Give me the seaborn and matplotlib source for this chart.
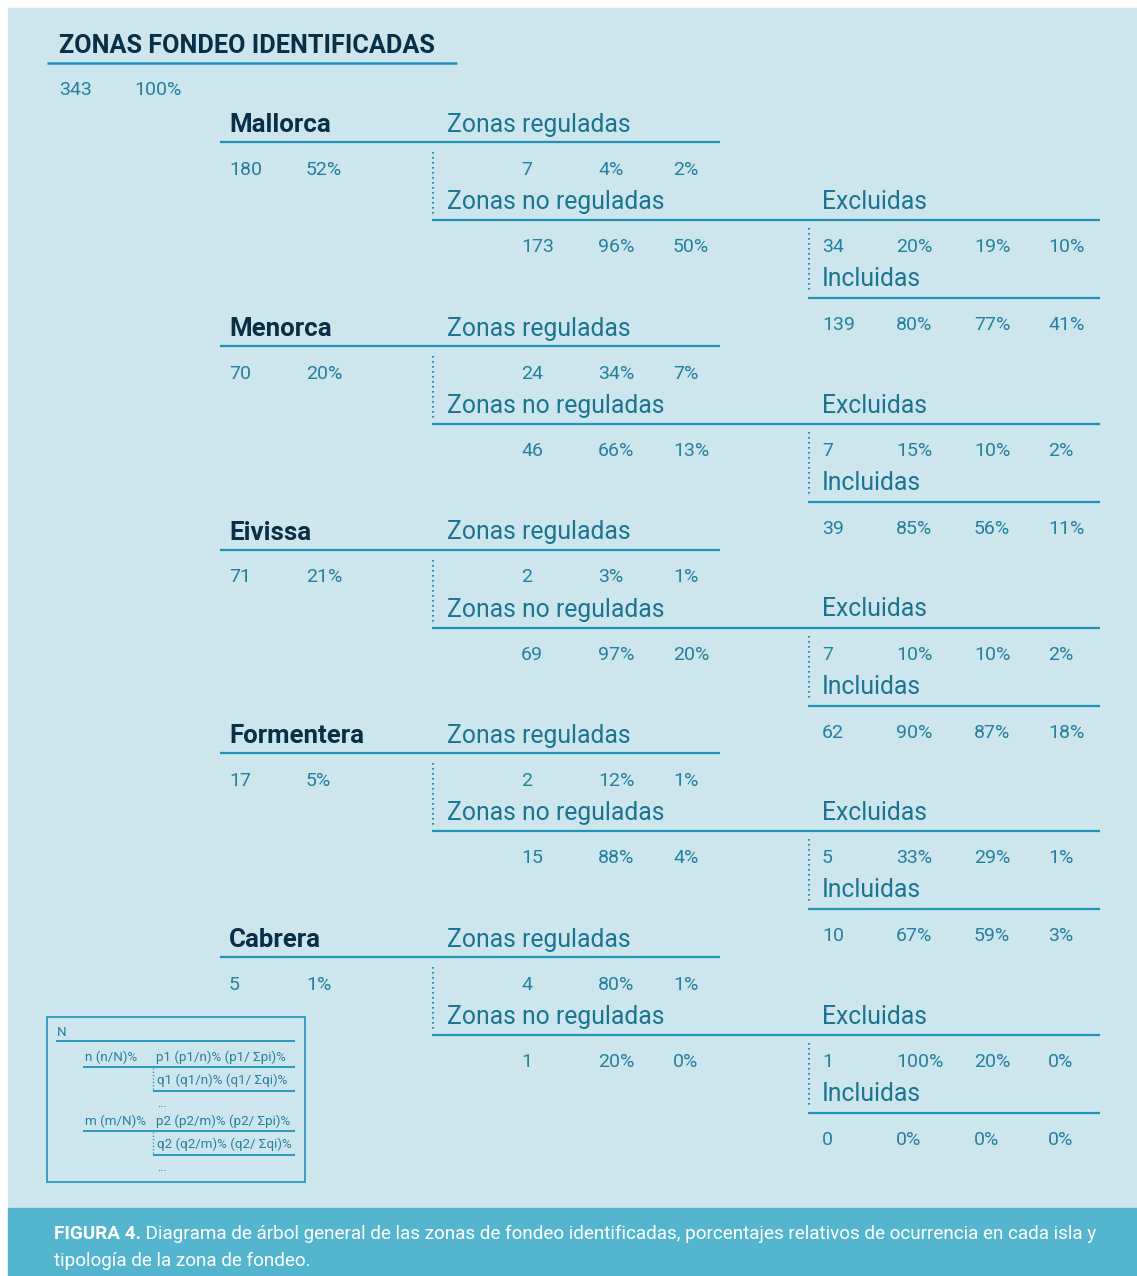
import matplotlib
matplotlib.use("Agg")
import matplotlib.pyplot as plt
import seaborn as sns
from matplotlib.patches import Rectangle

# ---- data ----
total_n = 343
total_pct = 100
islands = ["Mallorca", "Menorca", "Eivissa", "Formentera", "Cabrera"]
island_n = [180, 70, 71, 17, 5]
island_pct = [52, 20, 21, 5, 1]

reg_n = [7, 24, 2, 2, 4]
reg_pct = [4, 34, 3, 12, 80]
reg_tot = [2, 7, 1, 1, 1]

noreg_n = [173, 46, 69, 15, 1]
noreg_pct = [96, 66, 97, 88, 20]
noreg_tot = [50, 13, 20, 4, 0]

excl_n = [34, 7, 7, 5, 1]
excl_pct = [20, 15, 10, 33, 100]
excl_rel = [19, 10, 10, 29, 20]
excl_tot = [10, 2, 2, 1, 0]

incl_n = [139, 39, 62, 10, 0]
incl_pct = [80, 85, 90, 67, 0]
incl_rel = [77, 56, 87, 59, 0]
incl_tot = [41, 11, 18, 3, 0]

legend_rows = [
    ("n (n/N)%", "p1 (p1/n)% (p1/ \u03a3pi)%", "q1 (q1/n)% (q1/ \u03a3qi)%"),
    ("m (m/N)%", "p2 (p2/m)% (p2/ \u03a3pi)%", "q2 (q2/m)% (q2/ \u03a3qi)%"),
]

title = "ZONAS FONDEO IDENTIFICADAS"
caption_bold = "FIGURA 4."
caption_1 = " Diagrama de árbol general de las zonas de fondeo identificadas, porcentajes relativos de ocurrencia en cada isla y"
caption_2 = "tipología de la zona de fondeo."

# ---- style ----
sns.set_theme(style="white")
plt.rcParams["font.family"] = ["Roboto", "DejaVu Sans"]

BG = "#cde6ee"
CAP_BG = "#53b6ce"
LINE = "#1f93b6"
TEAL = "#23809f"
HEAD = "#1b7492"
NAVY = "#082f48"

W, H = 1137, 1276
fig = plt.figure(figsize=(W / 100, H / 100), dpi=100, facecolor="white")
ax = fig.add_axes([0, 0, 1, 1])
ax.set_xlim(0, W)
ax.set_ylim(H, 0)
ax.axis("off")

ax.add_patch(Rectangle((8, 8), W - 8, 1200, color=BG, zorder=0))
ax.add_patch(Rectangle((8, 1208), W - 8, H - 1208, color=CAP_BG, zorder=0))

NUM = 14
HD = 17.8
ISL = 18.6


def hline(x0, x1, y, lw=1.6):
    ax.plot([x0, x1], [y, y], color=LINE, lw=lw, solid_capstyle="butt")


def dotted(x, y0, y1, lw=1.5):
    ax.plot([x, x], [y0, y1], color=LINE, lw=lw, linestyle=(0, (0.8, 1.6)))


def num(x, y, s, size=NUM):
    ax.text(x, y, s, color=TEAL, fontsize=size, va="baseline", ha="left")


# title
ax.text(59, 53, title, color=NAVY, fontsize=18.2, fontweight="bold", va="baseline")
hline(47, 457, 63, lw=1.8)
num(59, 95, str(total_n))
num(134, 95, f"{total_pct}%")

step = 203.75
for i, name in enumerate(islands):
    b = i * step
    ax.text(229, 132 + b, name, color=NAVY, fontsize=ISL, fontweight="bold", va="baseline")
    ax.text(447, 132 + b, "Zonas reguladas", color=HEAD, fontsize=HD, va="baseline")
    hline(220, 432, 142 + b)
    hline(432, 720, 142 + b)

    num(229, 175 + b, str(island_n[i]))
    num(306, 175 + b, f"{island_pct[i]}%")
    num(521, 175 + b, str(reg_n[i]))
    num(598, 175 + b, f"{reg_pct[i]}%")
    num(673, 175 + b, f"{reg_tot[i]}%")
    dotted(433, 152 + b, 215 + b)

    ax.text(447, 209 + b, "Zonas no reguladas", color=HEAD, fontsize=HD, va="baseline")
    ax.text(822, 209 + b, "Excluidas", color=HEAD, fontsize=HD, va="baseline")
    hline(432, 1100, 220 + b)

    num(521, 252 + b, str(noreg_n[i]))
    num(598, 252 + b, f"{noreg_pct[i]}%")
    num(673, 252 + b, f"{noreg_tot[i]}%")
    dotted(809, 228 + b, 292 + b)

    num(822, 252 + b, str(excl_n[i]))
    num(896, 252 + b, f"{excl_pct[i]}%")
    num(974, 252 + b, f"{excl_rel[i]}%")
    num(1048, 252 + b, f"{excl_tot[i]}%")

    ax.text(822, 286 + b, "Incluidas", color=HEAD, fontsize=HD, va="baseline")
    hline(808, 1100, 298 + b)

    num(822, 330 + b, str(incl_n[i]))
    num(896, 330 + b, f"{incl_pct[i]}%")
    num(974, 330 + b, f"{incl_rel[i]}%")
    num(1048, 330 + b, f"{incl_tot[i]}%")

# legend box
LS = 9.6
ax.add_patch(Rectangle((47, 1017), 258, 165, fill=False, edgecolor=LINE, lw=1.2, zorder=2))
ax.text(57, 1036, "N", color=TEAL, fontsize=LS, va="baseline")
hline(56, 295, 1041, lw=1.3)
for k, (left, p, q) in enumerate(legend_rows):
    o = k * 64
    ax.text(85, 1061 + o, left, color=TEAL, fontsize=LS, va="baseline")
    ax.text(156, 1061 + o, p, color=TEAL, fontsize=LS, va="baseline")
    hline(83, 295, 1067 + o, lw=1.3)
    dotted(153, 1068 + o, 1090 + o, lw=1.0)
    ax.text(157, 1084 + o, q, color=TEAL, fontsize=LS, va="baseline")
    hline(153, 295, 1091 + o, lw=1.3)
    ax.text(157, 1107 + o, "...", color=TEAL, fontsize=LS - 1, va="baseline")

# caption
fig.canvas.draw()
renderer = fig.canvas.get_renderer()
cap_size = 13.6
tb = ax.text(54, 1239, caption_bold, color="white", fontsize=cap_size, fontweight="bold", va="baseline")
bb = tb.get_window_extent(renderer)
x_after = ax.transData.inverted().transform((bb.x1, bb.y0))[0]
ax.text(x_after, 1239, caption_1, color="white", fontsize=cap_size, va="baseline")
ax.text(54, 1266, caption_2, color="white", fontsize=cap_size, va="baseline")

fig.savefig("out.png", dpi=100, facecolor="white")
